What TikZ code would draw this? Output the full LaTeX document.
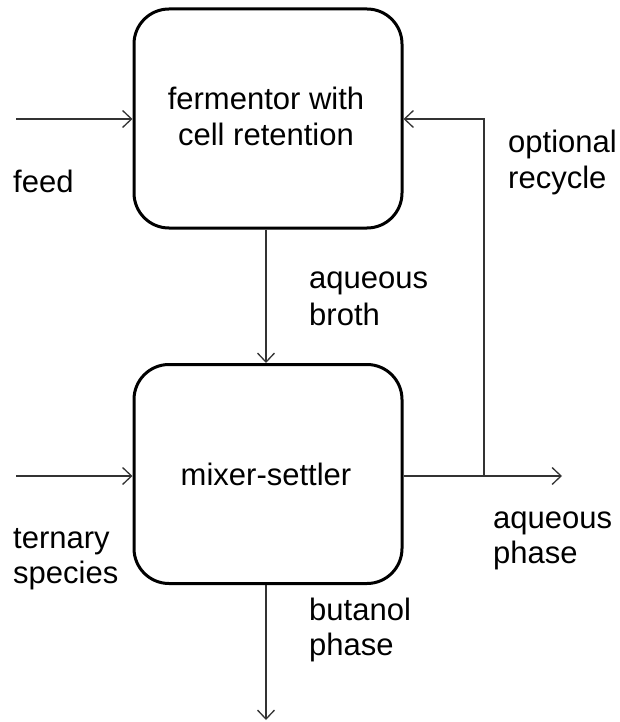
\documentclass[tikz,border=0pt]{standalone}
\usepackage{fontspec}
\setmainfont{Liberation Sans}
\usetikzlibrary{arrows.meta,calc}
\begin{document}
\begin{tikzpicture}[x=1pt,y=-1pt,
  procbox/.style={draw=black,line width=3pt,rounded corners=35pt,minimum width=268pt,minimum height=219pt,inner sep=0pt,align=center},
  lbl/.style={anchor=base west,inner sep=0pt,font=\fontsize{31}{36}\selectfont},
  arr/.style={draw=black!80,line width=1.3pt,-{Straight Barb[length=9pt,width=17pt,line width=1.3pt]}},
  ln/.style={draw=black!80,line width=1.3pt}]
\useasboundingbox (0,0) rectangle (619,722);
\node[procbox] (top) at (268,118.5) {};
\node[procbox] (bot) at (268,474) {};
\node[lbl,anchor=base] (t1) at (266,110) {fermentor with};
\node[lbl,anchor=base] (t2) at (266,146) {cell retention};
\node[lbl,anchor=base] (t3) at (266,485) {mixer-settler};
\node[lbl] (feed) at (13,193) {feed};
\node[lbl] (opt1) at (508,153) {optional};
\node[lbl] (opt2) at (508,188) {recycle};
\node[lbl] (aq1) at (309,288) {aqueous};
\node[lbl] (aq2) at (309,325) {broth};
\node[lbl] (ter1) at (13,548) {ternary};
\node[lbl] (ter2) at (13,583) {species};
\node[lbl] (ap1) at (493,528) {aqueous};
\node[lbl] (ap2) at (493,563) {phase};
\node[lbl] (bu1) at (309,620) {butanol};
\node[lbl] (bu2) at (309,655) {phase};
\coordinate (feedin) at (16,119);
\coordinate (terin) at (16,476);
\coordinate (junc) at (484,476);
\coordinate (recy) at (484,119);
\coordinate (aqout) at (562,476);
\coordinate (buout) at (266,720);
\draw[arr] (feedin) -- (feedin -| top.west);
\draw[arr] (terin) -- (terin -| bot.west);
\draw[ln] (terin -| bot.east) -- (junc);
\draw[arr] (junc) -- (aqout);
\draw[arr] (junc) -- (recy) -- (recy -| top.east);
\draw[arr] (top.south -| buout) -- (bot.north -| buout);
\draw[arr] (bot.south -| buout) -- (buout);
\end{tikzpicture}
\end{document}
